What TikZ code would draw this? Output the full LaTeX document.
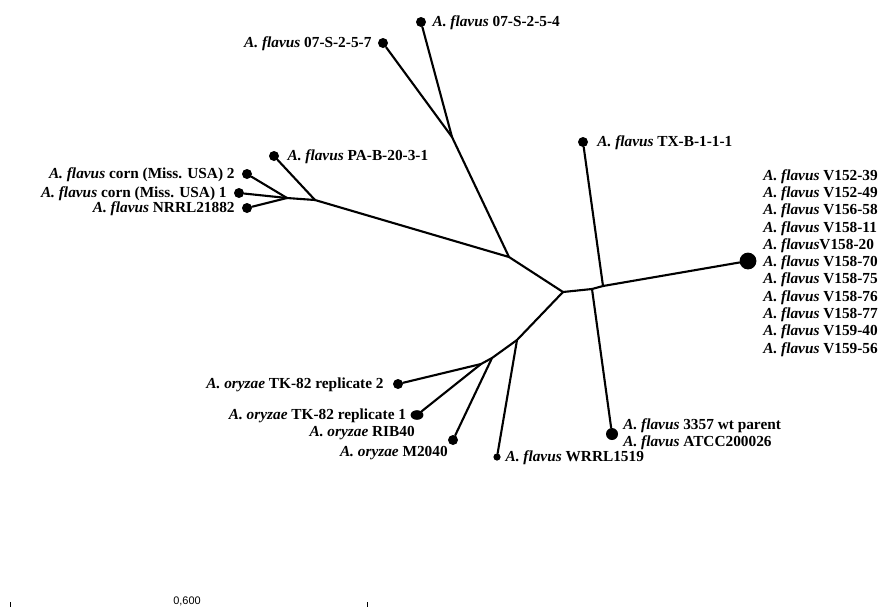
\documentclass[tikz,border=0pt]{standalone}
\usepackage{fontspec}
\setmainfont{Liberation Serif}
\newfontfamily\scalefont{Liberation Sans}
\usepackage{tikz}
\usetikzlibrary{positioning}
\usetikzlibrary{shapes}

\newcommand{\flav}{\textit{A. flavus}}
\newcommand{\oryz}{\textit{A. oryzae}}

\tikzset{
  tip/.style={circle, fill=black, inner sep=0pt, minimum size=0.25cm},
  branch/.style={line width=1.5pt, line cap=round},
  lbl/.style={font=\bfseries\fontsize{10.9}{12.3}\selectfont, inner sep=0pt, text height=0.66em, text depth=0pt}
}

\begin{document}
\begin{tikzpicture}[x=0.025cm, y=-0.025cm]
\useasboundingbox (0,0) rectangle (880,607);

 % forks
 \foreach \name/\x/\y in {c/563/292, j1/509/257, k/315/200, kc/287/198, s/452/137,
     j2/592/289, j3/603/286, j4/517/340, j5/492/358, j6/481/364}
   \coordinate (\name) at (\x,\y);

 % leaves
 \foreach \name/\x/\y in {s4/421/22, s7/383/43, pab/274/156, cornb/247/174, corna/239/193,
     nrrl/247/208, txb/583/142, m2040/453/440, rep2/398/384}
   \node[tip] (\name) at (\x,\y) {};
 \node[tip, minimum size=0.42cm] (vcl) at (748,261) {};
 \node[tip, minimum size=0.3cm] (pth) at (612,434) {};
 \node[tip, minimum size=0.18cm] (wrrl) at (497,457) {};
 \node[tip, ellipse, minimum width=0.32cm, minimum height=0.24cm] (rep1) at (417,415) {};

 % branches
 \foreach \a/\b in {c/j1, j1/k, k/kc, kc/cornb, kc/corna, kc/nrrl, k/pab, j1/s, s/s4, s/s7,
     c/j2, j2/j3, j3/vcl, j3/txb, j2/pth,
     c/j4, j4/wrrl, j4/j5, j5/m2040, j5/j6, j6/rep2, j6/rep1}
   \draw[branch] (\a) -- (\b);

 % labels
 \node[lbl, right=0.15cm of s4] (ls4) {\flav{} 07-S-2-5-4};
 \node[lbl, left=0.15cm of s7] (ls7) {\flav{} 07-S-2-5-7};
 \node[lbl, right=0.2cm of pab] (lpab) {\flav{} PA-B-20-3-1};
 \node[lbl, left=0.17cm of cornb] (lcornb) {\flav{} corn (Miss. USA) 2};
 \node[lbl, left=0.17cm of corna] (lcorna) {\flav{} corn (Miss. USA) 1};
 \node[lbl, left=0.17cm of nrrl] (lnrrl) {\flav{} NRRL21882};
 \node[lbl, right=0.22cm of txb] (ltxb) {\flav{} TX-B-1-1-1};

 \foreach \i/\name in {0/{\flav{} V152-39}, 1/{\flav{} V152-49}, 2/{\flav{} V156-58},
     3/{\flav{} V158-11}, 4/{\flav{}V158-20}, 5/{\flav{} V158-70}, 6/{\flav{} V158-75},
     7/{\flav{} V158-76}, 8/{\flav{} V158-77}, 9/{\flav{} V159-40}, 10/{\flav{} V159-56}}
   \node[lbl, anchor=west] (v\i) at (763, {175.5+17.3*\i}) {\name};

 \node[lbl, anchor=west] (lptha) at (623,425) {\flav{} 3357 wt parent};
 \node[lbl, anchor=west] (lpthb) at (623,442) {\flav{} ATCC200026};
 \node[lbl, right=0.11cm of wrrl] (lwrrl) {\flav{} WRRL1519};
 \node[lbl, anchor=east] (lm2040) at (448,452) {\oryz{} M2040};
 \node[lbl, anchor=east] (lrib) at (415,432) {\oryz{} RIB40};
 \node[lbl, left=0.1cm of rep1] (lrep1) {\oryz{} TK-82 replicate 1};
 \node[lbl, left=0.22cm of rep2] (lrep2) {\oryz{} TK-82 replicate 2};

 % scale
 \node[font=\scalefont\fontsize{7.8}{9}\selectfont, inner sep=0pt] (scl) at (187,601) {0,600};
 \draw[thin] (10,602) -- (10,607);
 \draw[thin] (367,602) -- (367,607);

\end{tikzpicture}
\end{document}
